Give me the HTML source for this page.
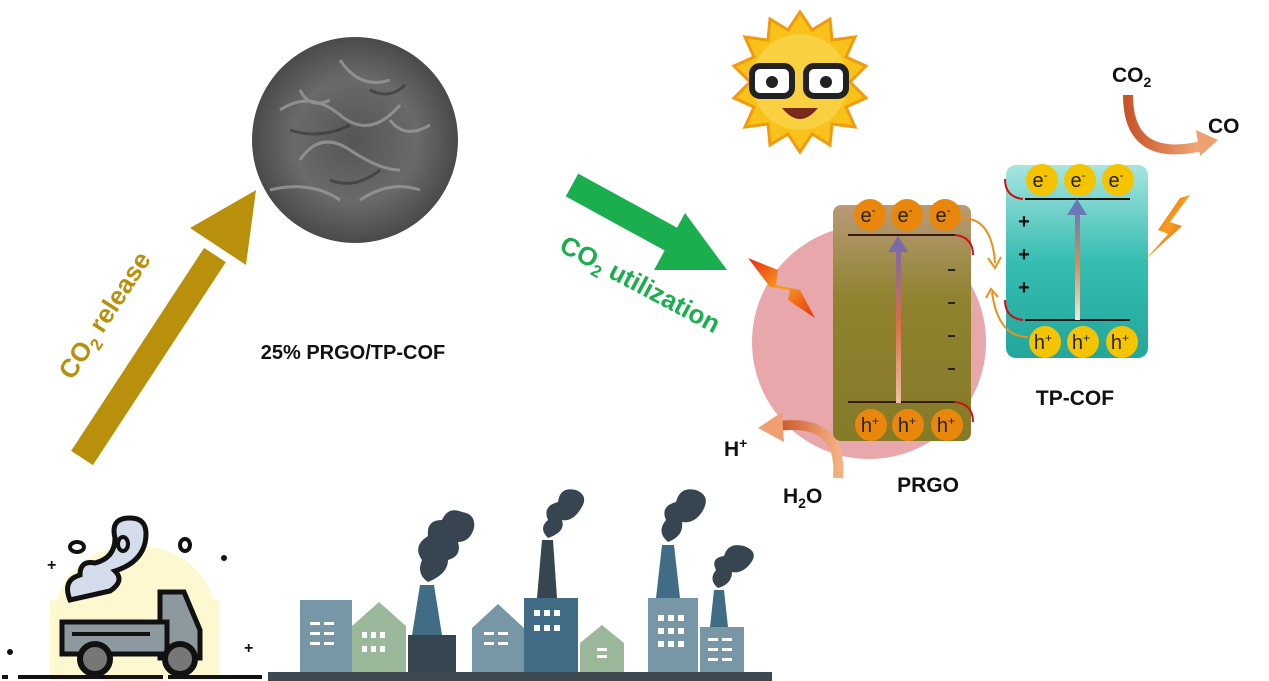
<!DOCTYPE html>
<html><head><meta charset="utf-8"><style>
html,body{margin:0;padding:0;background:#fff;}
svg{display:block;font-family:"Liberation Sans",Arial,sans-serif;font-weight:bold;}
</style></head><body>
<svg width="1269" height="681" viewBox="0 0 1269 681" xmlns="http://www.w3.org/2000/svg">
<defs>
<radialGradient id="sem" cx="50%" cy="50%" r="50%"><stop offset="0" stop-color="#555"/><stop offset="0.6" stop-color="#6a6a6a"/><stop offset="1" stop-color="#4a4a4a"/></radialGradient>
<linearGradient id="prgo" x1="0" y1="0" x2="0" y2="1"><stop offset="0" stop-color="#b89a78"/><stop offset="0.4" stop-color="#8f832f"/><stop offset="1" stop-color="#847a28"/></linearGradient>
<linearGradient id="cof" x1="0" y1="0" x2="0" y2="1"><stop offset="0" stop-color="#a8e4e0"/><stop offset="0.5" stop-color="#36bdb2"/><stop offset="1" stop-color="#23a69c"/></linearGradient>
<linearGradient id="up1" x1="0" y1="1" x2="0" y2="0"><stop offset="0" stop-color="#f0c0a8"/><stop offset="0.5" stop-color="#d86f4a"/><stop offset="1" stop-color="#7a6aa8"/></linearGradient>
<linearGradient id="up2" x1="0" y1="1" x2="0" y2="0"><stop offset="0" stop-color="#f4e8dc"/><stop offset="0.5" stop-color="#e08a50"/><stop offset="1" stop-color="#6a78b8"/></linearGradient>
<linearGradient id="og" x1="0" y1="0" x2="1" y2="0"><stop offset="0" stop-color="#c8552a"/><stop offset="1" stop-color="#f5b080"/></linearGradient>
<linearGradient id="bolt" x1="0" y1="0" x2="1" y2="1"><stop offset="0" stop-color="#e82a10"/><stop offset="0.5" stop-color="#f5a020"/><stop offset="1" stop-color="#e83010"/></linearGradient>
</defs>

<!-- gold arrow -->
<line x1="82" y1="458" x2="215" y2="255" stroke="#b8900c" stroke-width="26"/>
<polygon points="256,190 190,228 246,265" fill="#b8900c"/>
<text x="0" y="0" transform="translate(112,320) rotate(-57)" fill="#b8900c" font-size="26" text-anchor="middle">CO<tspan font-size="17" dy="6">2</tspan><tspan dy="-6"> release</tspan></text>

<!-- SEM -->
<circle cx="355" cy="140" r="103" fill="url(#sem)"/>
<g stroke="#9a9a9a" stroke-width="3" fill="none" opacity="0.8">
<path d="M280 110 q30 -20 60 5 t60 -10"/><path d="M300 160 q20 -30 50 -10 t50 20"/><path d="M270 190 q40 -10 70 10"/><path d="M340 60 q20 30 50 20"/><path d="M300 90 q10 20 30 10"/><path d="M360 200 q30 -20 60 -10"/><path d="M390 120 q15 20 40 5"/>
</g>
<g stroke="#333" stroke-width="3" fill="none" opacity="0.6"><path d="M290 130 q30 10 60 -5"/><path d="M330 180 q25 10 50 -10"/><path d="M370 90 q20 10 35 -5"/></g>
<text x="353" y="359" font-size="20" text-anchor="middle" fill="#111">25% PRGO/TP-COF</text>

<!-- green arrow -->
<line x1="572" y1="185" x2="678" y2="243" stroke="#1aae4e" stroke-width="26"/>
<polygon points="727,270 654,270 685,213" fill="#1aae4e"/>
<text transform="translate(636,292) rotate(28)" fill="#1aae4e" font-size="26" text-anchor="middle">CO<tspan font-size="17" dy="6">2</tspan><tspan dy="-6"> utilization</tspan></text>

<!-- sun -->
<g transform="translate(800,82)">
<polygon points="0,-70 12,-52 30,-63 32,-42 55,-45 46,-25 66,-16 50,0 66,16 46,25 55,45 32,42 30,63 12,52 0,70 -12,52 -30,63 -32,42 -55,45 -46,25 -66,16 -50,0 -66,-16 -46,-25 -55,-45 -32,-42 -30,-63 -12,-52" fill="#f8c21a" stroke="#f09a10" stroke-width="3"/>
<circle r="48" fill="#f9d040"/>
<rect x="-48" y="-16" width="40" height="30" rx="8" fill="#fff" stroke="#222" stroke-width="6"/>
<rect x="6" y="-16" width="40" height="30" rx="8" fill="#fff" stroke="#222" stroke-width="6"/>
<circle cx="-28" cy="0" r="6" fill="#222"/><circle cx="26" cy="0" r="6" fill="#222"/>
<path d="M-18 26 q18 22 36 0 z" fill="#7a2a1a"/>
</g>

<!-- pink circle -->
<circle cx="869" cy="342" r="117" fill="#e8a8ab"/>

<!-- PRGO box -->
<rect x="833" y="205" width="138" height="236" rx="8" fill="url(#prgo)"/>
<line x1="848" y1="235" x2="955" y2="235" stroke="#3a1a10" stroke-width="2"/>
<line x1="848" y1="402" x2="955" y2="402" stroke="#3a1a10" stroke-width="2"/>
<path d="M955 235 q18 2 18 20" stroke="#d01010" stroke-width="2" fill="none"/>
<path d="M955 402 q18 2 18 20" stroke="#d01010" stroke-width="2" fill="none"/>
<rect x="896" y="245" width="5" height="158" fill="url(#up1)"/>
<polygon points="898,236 888,252 908,252" fill="#7a6aa8"/>
<g fill="#e8870c"><circle cx="870" cy="215" r="16"/><circle cx="907" cy="215" r="16"/><circle cx="945" cy="215" r="16"/><circle cx="871" cy="425" r="16"/><circle cx="908" cy="425" r="16"/><circle cx="947" cy="425" r="16"/></g>
<g font-size="20" font-weight="normal" fill="#222" text-anchor="middle"><text x="868" y="222">e<tspan font-size="12" dy="-8">-</tspan></text><text x="905" y="222">e<tspan font-size="12" dy="-8">-</tspan></text><text x="943" y="222">e<tspan font-size="12" dy="-8">-</tspan></text>
<text x="870" y="432">h<tspan font-size="12" dy="-7">+</tspan></text><text x="907" y="432">h<tspan font-size="12" dy="-7">+</tspan></text><text x="946" y="432">h<tspan font-size="12" dy="-7">+</tspan></text></g>
<g stroke="#222" stroke-width="2"><line x1="948" y1="270" x2="955" y2="270"/><line x1="948" y1="303" x2="955" y2="303"/><line x1="948" y1="336" x2="955" y2="336"/><line x1="948" y1="369" x2="955" y2="369"/></g>

<!-- TP-COF box -->
<rect x="1006" y="165" width="142" height="193" rx="10" fill="url(#cof)"/>
<line x1="1025" y1="199" x2="1130" y2="199" stroke="#111" stroke-width="2"/>
<line x1="1025" y1="320" x2="1130" y2="320" stroke="#111" stroke-width="2"/>
<path d="M1023 199 q-18 -2 -18 -20" stroke="#d01010" stroke-width="2" fill="none"/>
<path d="M1023 320 q-18 -2 -18 -20" stroke="#d01010" stroke-width="2" fill="none"/>
<rect x="1075" y="208" width="5" height="112" fill="url(#up2)"/>
<polygon points="1077,199 1067,215 1087,215" fill="#6a78b8"/>
<g fill="#f5c400"><circle cx="1042" cy="180" r="16"/><circle cx="1080" cy="180" r="16"/><circle cx="1118" cy="180" r="16"/><circle cx="1045" cy="342" r="16"/><circle cx="1083" cy="342" r="16"/><circle cx="1122" cy="342" r="16"/></g>
<g font-size="20" font-weight="normal" fill="#222" text-anchor="middle"><text x="1040" y="187">e<tspan font-size="12" dy="-8">-</tspan></text><text x="1078" y="187">e<tspan font-size="12" dy="-8">-</tspan></text><text x="1116" y="187">e<tspan font-size="12" dy="-8">-</tspan></text>
<text x="1043" y="349">h<tspan font-size="12" dy="-7">+</tspan></text><text x="1081" y="349">h<tspan font-size="12" dy="-7">+</tspan></text><text x="1120" y="349">h<tspan font-size="12" dy="-7">+</tspan></text></g>
<g font-size="20" fill="#111" text-anchor="middle"><text x="1024" y="228">+</text><text x="1024" y="261">+</text><text x="1024" y="294">+</text></g>

<!-- orange transfer arrows -->
<path d="M962 218 q30 0 33 45" stroke="#e89020" stroke-width="2" fill="none"/>
<polyline points="988,258 995,268 1001,257" stroke="#e89020" stroke-width="2" fill="none"/>
<path d="M1028 337 q-30 0 -36 -45" stroke="#e89020" stroke-width="2" fill="none"/>
<polyline points="986,298 991,289 998,297" stroke="#e89020" stroke-width="2" fill="none"/>

<!-- bolts -->
<polygon points="748,258 778,270 776,285 800,290 815,318 788,300 790,290 770,287" fill="url(#bolt)"/>
<polygon points="1190,195 1170,222 1182,226 1145,260 1168,234 1158,230 1180,198" fill="url(#bolt)"/>

<!-- labels -->
<text x="1075" y="405" font-size="21" text-anchor="middle" fill="#111">TP-COF</text>
<text x="928" y="492" font-size="21" text-anchor="middle" fill="#111">PRGO</text>
<text x="783" y="503" font-size="21" fill="#111">H<tspan font-size="14" dy="5">2</tspan><tspan dy="-5">O</tspan></text>
<text x="724" y="456" font-size="21" fill="#111">H<tspan font-size="14" dy="-8">+</tspan></text>
<text x="1112" y="82" font-size="21" fill="#111">CO<tspan font-size="14" dy="5">2</tspan></text>
<text x="1208" y="133" font-size="21" fill="#111">CO</text>

<!-- curved gradient arrows -->
<path d="M838 478 q5 -60 -60 -52" stroke="url(#og)" stroke-width="10" fill="none"/>
<polygon points="758,428 782,412 784,442" fill="#f0a070"/>
<path d="M1128 95 q0 70 78 50" stroke="url(#og)" stroke-width="10" fill="none"/>
<polygon points="1218,140 1196,130 1200,156" fill="#f0a070"/>

<!-- truck -->
<ellipse cx="135" cy="615" rx="80" ry="70" fill="#fdf8d0"/>
<rect x="50" y="600" width="170" height="80" fill="#fdf8d0"/>
<path d="M70 600 q-8 -20 10 -25 q0 -15 15 -12 q20 -5 20 -25 q-5 -20 15 -20 q20 0 15 25 q-5 20 -30 28 q10 10 -5 20 z" fill="#d5ddec" stroke="#111" stroke-width="5"/>
<ellipse cx="77" cy="547" rx="7" ry="5" fill="none" stroke="#111" stroke-width="4"/>
<ellipse cx="123" cy="544" rx="5" ry="7" fill="none" stroke="#111" stroke-width="4"/>
<ellipse cx="185" cy="545" rx="5" ry="6" fill="none" stroke="#111" stroke-width="4"/>
<path d="M160 592 h24 l16 38 v28 h-40 z" fill="#8d999e" stroke="#111" stroke-width="5"/>
<rect x="62" y="622" width="105" height="32" fill="#8d999e" stroke="#111" stroke-width="5"/>
<line x1="72" y1="634" x2="150" y2="634" stroke="#111" stroke-width="4"/>
<circle cx="95" cy="659" r="15" fill="#777" stroke="#111" stroke-width="6"/>
<circle cx="180" cy="659" r="15" fill="#777" stroke="#111" stroke-width="6"/>
<text x="47" y="570" font-size="16" fill="#111">+</text><text x="244" y="653" font-size="16" fill="#111">+</text>
<circle cx="224" cy="558" r="3" fill="#111"/><circle cx="10" cy="652" r="3" fill="#111"/>
<line x1="18" y1="677" x2="163" y2="677" stroke="#111" stroke-width="4"/>
<line x1="2" y1="677" x2="8" y2="677" stroke="#111" stroke-width="4"/>
<line x1="168" y1="677" x2="262" y2="677" stroke="#111" stroke-width="4"/>

<!-- factory city -->
<rect x="268" y="672" width="504" height="9" fill="#3d4a52"/>
<path d="M300 600 h52 v72 h-52 v-60 z" fill="#7897a6"/>
<path d="M352 626 l27 -24 27 24 v46 h-54 z" fill="#9cb89a"/>
<path d="M420 585 h14 l8 50 h-30 z" fill="#406d85"/>
<rect x="408" y="635" width="48" height="37" fill="#36454f"/>
<path d="M472 628 l26 -24 26 24 v44 h-52 z" fill="#7897a6"/>
<rect x="524" y="598" width="54" height="74" fill="#406d85"/>
<path d="M542 540 h11 l4 58 h-20 z" fill="#36454f"/>
<path d="M580 643 l22 -18 22 18 v29 h-44 z" fill="#9cb89a"/>
<rect x="648" y="598" width="50" height="74" fill="#7897a6"/>
<path d="M662 545 h12 l6 53 h-24 z" fill="#406d85"/>
<rect x="700" y="627" width="44" height="45" fill="#7897a6"/>
<path d="M714 590 h10 l4 37 h-18 z" fill="#406d85"/>
<g fill="#36454f">
<path d="M428 582 q-12 -8 -6 -22 q-10 -14 6 -24 q-2 -16 14 -16 q6 -14 20 -8 q14 2 12 16 q-4 14 -16 14 q4 14 -10 18 q0 14 -20 22 z"/>
<path d="M548 538 q-10 -10 0 -18 q-6 -14 10 -18 q2 -16 18 -12 q14 6 4 20 q-8 12 -18 10 q4 12 -14 18 z"/>
<path d="M668 542 q-12 -10 -2 -22 q-6 -14 10 -18 q4 -16 20 -12 q16 6 6 22 q-8 12 -20 10 q2 14 -14 20 z"/>
<path d="M718 588 q-10 -8 -2 -18 q-6 -12 8 -14 q4 -14 20 -10 q16 6 6 18 q-8 10 -18 8 q0 12 -14 16 z"/>
</g>
<g fill="#fff">
<rect x="310" y="622" width="10" height="3"/><rect x="324" y="622" width="10" height="3"/><rect x="310" y="632" width="10" height="3"/><rect x="324" y="632" width="10" height="3"/><rect x="310" y="642" width="10" height="3"/><rect x="324" y="642" width="10" height="3"/>
<rect x="362" y="632" width="5" height="6"/><rect x="371" y="632" width="5" height="6"/><rect x="380" y="632" width="5" height="6"/><rect x="362" y="646" width="5" height="6"/><rect x="371" y="646" width="5" height="6"/><rect x="380" y="646" width="5" height="6"/>
<rect x="484" y="632" width="10" height="3"/><rect x="498" y="632" width="10" height="3"/><rect x="484" y="642" width="10" height="3"/><rect x="498" y="642" width="10" height="3"/>
<rect x="534" y="610" width="6" height="6"/><rect x="544" y="610" width="6" height="6"/><rect x="554" y="610" width="6" height="6"/><rect x="534" y="625" width="6" height="6"/><rect x="544" y="625" width="6" height="6"/><rect x="554" y="625" width="6" height="6"/>
<rect x="597" y="648" width="10" height="3"/><rect x="597" y="655" width="10" height="3"/>
<rect x="658" y="615" width="6" height="6"/><rect x="668" y="615" width="6" height="6"/><rect x="678" y="615" width="6" height="6"/><rect x="658" y="628" width="6" height="6"/><rect x="668" y="628" width="6" height="6"/><rect x="678" y="628" width="6" height="6"/><rect x="658" y="641" width="6" height="6"/><rect x="668" y="641" width="6" height="6"/><rect x="678" y="641" width="6" height="6"/>
<rect x="708" y="638" width="10" height="3"/><rect x="722" y="638" width="10" height="3"/><rect x="708" y="648" width="10" height="3"/><rect x="722" y="648" width="10" height="3"/><rect x="708" y="658" width="10" height="3"/><rect x="722" y="658" width="10" height="3"/>
</g>
</svg>
</body></html>
